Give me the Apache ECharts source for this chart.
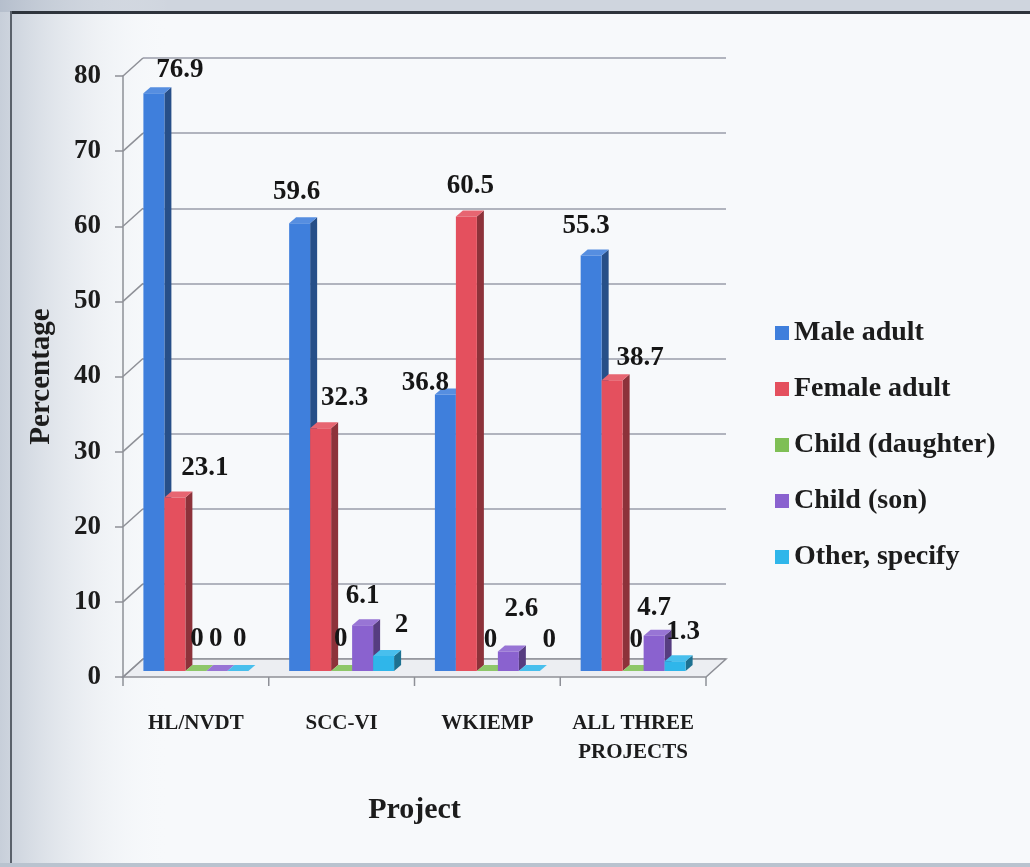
<!DOCTYPE html>
<html>
<head>
<meta charset="utf-8">
<script src="https://cdn.jsdelivr.net/npm/echarts@6/dist/echarts.min.js"></script>
<style>
  html, body { margin: 0; padding: 0; background: #f7f9fb; }
  #chart { width: 1030px; height: 867px; }
</style>
</head>
<body>
<div id="chart"></div>
<script>
// Who answered, by project (percent of respondents)
const categories = ['HL/NVDT', 'SCC-VI', 'WKIEMP', 'ALL THREE\nPROJECTS'];
const seriesNames = ['Male adult', 'Female adult', 'Child (daughter)', 'Child (son)', 'Other, specify'];
const maleAdult = [76.9, 59.6, 36.8, 55.3];
const femaleAdult = [23.1, 32.3, 60.5, 38.7];
const childDaughter = [0, 0, 0, 0];
const childSon = [0, 6.1, 2.6, 4.7];
const otherSpecify = [0, 2, 0, 1.3];
const yTicks = [0, 10, 20, 30, 40, 50, 60, 70, 80];

const seriesValues = [maleAdult, femaleAdult, childDaughter, childSon, otherSpecify];
const faceColors = ['#3f7fdc', '#e4505e', '#7fbf55', '#8a62cf', '#2fb6ea'];

// Value-label placement tweaks (dx, dy in px from the bar's top face)
const labelNudge = [
  [[26, -17], [-3, -25], [-20, -6], [-5, -24]],
  [[30, -23], [24, -24], [4, -24], [28, -16]],
  [[1, -26], [-1, -26], [3, -25], [3, -25]],
  [[-1, -26], [0, -23], [13, -36], [0, -22]],
  [[2, -26], [18, -25], [20, -25], [8, -23]]
];

const SERIF = '"Liberation Serif", "DejaVu Serif", serif';
const DEPTH = [20, -18];     // depth of the 3-D box (back wall offset)
const BAR_DEPTH = [7, -6];   // depth of each bar
const BAR_LIFT = -6;         // bars stand a little behind the front edge
const BAR_FRAC = 0.144;      // front-face width as a share of a category

function shade(hex, k) {
  const n = parseInt(hex.slice(1), 16);
  let r = (n >> 16) & 255, g = (n >> 8) & 255, b = n & 255;
  const f = c => Math.max(0, Math.min(255, Math.round(k < 1 ? c * k : c + (255 - c) * (k - 1))));
  return 'rgb(' + f(r) + ',' + f(g) + ',' + f(b) + ')';
}

function barGeom(api, si) {
  const cat = api.value(0), val = api.value(1);
  const base = api.coord([cat, 0]);
  const top = api.coord([cat, val]);
  const bw = api.size([1, 0])[0] * BAR_FRAC;
  const cx = base[0] + (si - 2) * bw;
  return { x0: cx - bw / 2, x1: cx + bw / 2, cx: cx, yb: base[1] + BAR_LIFT, yt: top[1] + BAR_LIFT };
}

const barSeries = seriesValues.map((vals, si) => ({
  type: 'custom',
  name: seriesNames[si],
  xAxisIndex: 0, yAxisIndex: 0,
  z: 5,
  itemStyle: { color: faceColors[si] },
  data: vals.map((v, i) => [i, v]),
  renderItem: function (params, api) {
    const g = barGeom(api, si);
    const [dx, dy] = BAR_DEPTH;
    const c = faceColors[si];
    return {
      type: 'group',
      children: [
        { type: 'polygon', shape: { points: [[g.x1, g.yb], [g.x1 + dx, g.yb + dy], [g.x1 + dx, g.yt + dy], [g.x1, g.yt]] },
          style: { fill: shade(c, 0.62) } },
        { type: 'polygon', shape: { points: [[g.x0, g.yt], [g.x1, g.yt], [g.x1 + dx, g.yt + dy], [g.x0 + dx, g.yt + dy]] },
          style: { fill: shade(c, 1.12) } },
        { type: 'rect', shape: { x: g.x0, y: g.yt, width: g.x1 - g.x0, height: g.yb - g.yt },
          style: { fill: c } }
      ]
    };
  }
}));

// Value labels drawn above every bar
const labelSeries = {
  type: 'custom',
  name: 'labels',
  xAxisIndex: 0, yAxisIndex: 0,
  z: 20,
  silent: true,
  data: seriesValues.flatMap((vals, si) => vals.map((v, i) => [i, v, si])),
  renderItem: function (params, api) {
    const si = api.value(2), cat = api.value(0);
    const g = barGeom(api, si);
    const nd = labelNudge[si][cat];
    return {
      type: 'text',
      x: g.cx + nd[0],
      y: g.yt + BAR_DEPTH[1] + nd[1],
      style: {
        text: String(api.value(1)),
        font: 'bold 27px ' + SERIF,
        fill: '#161616',
        align: 'center',
        verticalAlign: 'middle'
      }
    };
  }
};

// Floor, depth connectors at each tick and the category ticks of the front edge
const frameSeries = {
  type: 'custom',
  name: 'frame',
  xAxisIndex: 0, yAxisIndex: 0,
  z: 1,
  silent: true,
  data: yTicks.map(t => [0, t]),
  renderItem: function (params, api) {
    const cs = params.coordSys;
    const [dx, dy] = DEPTH;
    const y = api.coord([0, api.value(1)])[1];
    const x0 = cs.x, x1 = cs.x + cs.width;
    const kids = [
      { type: 'line', shape: { x1: x0, y1: y, x2: x0 + dx, y2: y + dy },
        style: { stroke: '#8e9097', lineWidth: 1.5 } }
    ];
    if (params.dataIndex === 0) {
      kids.unshift({ type: 'polygon',
        shape: { points: [[x0, y], [x1, y], [x1 + dx, y + dy], [x0 + dx, y + dy]] },
        style: { fill: '#eceef2', stroke: '#8e9097', lineWidth: 1.5 } });
      const step = cs.width / categories.length;
      for (let k = 0; k <= categories.length; k++) {
        kids.push({ type: 'line', shape: { x1: x0 + k * step, y1: y, x2: x0 + k * step, y2: y + 9 },
          style: { stroke: '#8e9097', lineWidth: 1.5 } });
      }
    }
    return { type: 'group', children: kids };
  }
};

const chart = echarts.init(document.getElementById('chart'), null, { renderer: 'canvas' });

chart.setOption({
  backgroundColor: '#f7f9fb',
  animation: false,
  graphic: [
    { type: 'rect', shape: { x: 0, y: 0, width: 1030, height: 12 }, style: { fill: '#cfd5de' }, z: -10 },
    { type: 'rect', shape: { x: 0, y: 0, width: 170, height: 867 }, z: -9,
      style: { fill: new echarts.graphic.LinearGradient(0, 0, 1, 0, [
        { offset: 0, color: 'rgba(160,172,190,0.55)' },
        { offset: 1, color: 'rgba(247,249,251,0)' }]) } },
    { type: 'rect', shape: { x: 11, y: 11, width: 1019, height: 3 }, style: { fill: '#2e343c' }, z: -8 },
    { type: 'rect', shape: { x: 10, y: 11, width: 2, height: 856 }, style: { fill: '#5a616b' }, z: -8 },
    { type: 'rect', shape: { x: 0, y: 863, width: 1030, height: 4 }, style: { fill: '#b9c3cf' }, z: -8 }
  ],
  legend: {
    orient: 'vertical',
    left: 770,
    top: 312,
    data: seriesNames,
    icon: 'rect',
    itemWidth: 14,
    itemHeight: 14,
    itemGap: 24,
    textStyle: { fontFamily: SERIF, fontWeight: 'bold', fontSize: 28, color: '#1c1c1c', lineHeight: 32 }
  },
  grid: [
    { left: 123, right: 324, top: 76, bottom: 190 },
    { left: 143, right: 304, top: 58, bottom: 208 }
  ],
  xAxis: [
    {
      type: 'category', gridIndex: 0, data: categories,
      axisLine: { show: false }, axisTick: { show: false },
      axisLabel: { interval: 0, fontFamily: SERIF, fontWeight: 'bold', fontSize: 21, color: '#1c1c1c', margin: 32, lineHeight: 29 },
      name: 'Project', nameLocation: 'middle', nameGap: 118,
      nameTextStyle: { fontFamily: SERIF, fontWeight: 'bold', fontSize: 30, color: '#1c1c1c' }
    },
    { type: 'category', gridIndex: 1, data: categories, show: false }
  ],
  yAxis: [
    {
      type: 'value', gridIndex: 0, min: 0, max: 80, interval: 10,
      axisLine: { show: true, lineStyle: { color: '#8e9097', width: 1.5 } },
      axisTick: { show: true, length: 8, lineStyle: { color: '#8e9097', width: 1.5 } },
      splitLine: { show: false },
      axisLabel: { fontFamily: SERIF, fontWeight: 'bold', fontSize: 27, color: '#1c1c1c', margin: 22 },
      name: 'Percentage', nameLocation: 'middle', nameGap: 67, nameRotate: 90,
      nameTextStyle: { fontFamily: SERIF, fontWeight: 'bold', fontSize: 29, color: '#1c1c1c' }
    },
    {
      type: 'value', gridIndex: 1, min: 0, max: 80, interval: 10,
      axisLine: { show: false }, axisTick: { show: false }, axisLabel: { show: false },
      splitLine: { show: true, lineStyle: { color: '#9a9caa', width: 1.5 } }
    }
  ],
  series: [frameSeries].concat(barSeries, [labelSeries])
});
</script>
</body>
</html>
